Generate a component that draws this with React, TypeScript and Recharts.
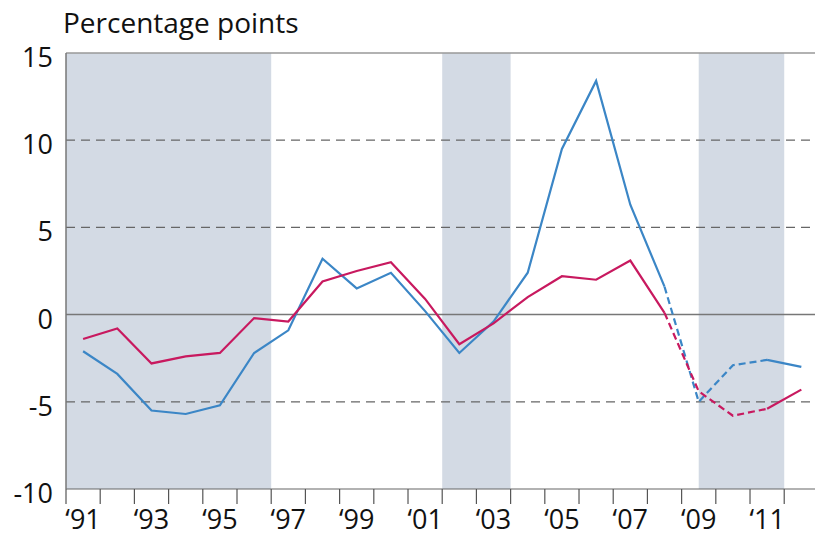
import React from 'react';
import { LineChart, Line, XAxis, YAxis, ReferenceArea, ReferenceLine } from 'recharts';

const years = [1991, 1992, 1993, 1994, 1995, 1996, 1997, 1998, 1999, 2000, 2001, 2002, 2003, 2004, 2005, 2006, 2007, 2008, 2009, 2010, 2011, 2012];
const blueSeries = [-2.1, -3.4, -5.5, -5.7, -5.2, -2.2, -0.9, 3.2, 1.5, 2.4, 0.2, -2.2, -0.4, 2.4, 9.5, 13.4, 6.3, 1.6, -5.0, -2.9, -2.6, -3.0];
const redSeries = [-1.4, -0.8, -2.8, -2.4, -2.2, -0.2, -0.4, 1.9, 2.5, 3.0, 0.9, -1.7, -0.5, 1.0, 2.2, 2.0, 3.1, 0.1, -4.4, -5.8, -5.4, -4.3];
// years drawn with a dashed line (estimates)
const dashedFrom = 2008;
const dashedTo = 2011;

const shadedPeriods = [[1990.5, 1996.5], [2001.5, 2003.5], [2009.0, 2011.5]];
const yTicks = [-10, -5, 0, 5, 10, 15];
const dashedGrid = [10, 5, -5];
const xLabelYears = [1991, 1993, 1995, 1997, 1999, 2001, 2003, 2005, 2007, 2009, 2011];
const yearBounds = years.map(y => y - 0.5);

const BLUE = '#3b86c6';
const RED = '#c8195f';
const SHADE = '#d3dae4';
const FONT = '"Open Sans", sans-serif';

const pick = (vals: number[], i: number, seg: string) => {
    const yr = years[i];
    if (seg === 'a') return yr <= dashedFrom ? vals[i] : null;
    if (seg === 'b') return yr >= dashedFrom && yr <= dashedTo ? vals[i] : null;
    return yr >= dashedTo ? vals[i] : null;
};

const data = years.map((yr, i) => ({
    year: yr,
    blueA: pick(blueSeries, i, 'a'), blueB: pick(blueSeries, i, 'b'), blueC: pick(blueSeries, i, 'c'),
    redA: pick(redSeries, i, 'a'), redB: pick(redSeries, i, 'b'), redC: pick(redSeries, i, 'c'),
}));

const XTick = ({ x, y, payload }: any) => {
    const v = payload.value;
    if (v % 1 !== 0) {
        return <line x1={x} x2={x} y1={y} y2={y + 15} stroke="#555" strokeWidth={1.2} />;
    }
    return (
        <text x={x} y={y + 40} textAnchor="middle" fontSize={27} fontFamily={FONT} fill="#111">
            {'\u2018' + String(v).slice(2)}
        </text>
    );
};

const YTick = ({ x, y, payload }: any) => (
    <text x={x - 13} y={y + 14} textAnchor="end" fontSize={27} fontFamily={FONT} fill="#111">
        {payload.value}
    </text>
);

export default function App() {
    return (
        <div style={{ position: 'absolute', left: 0, top: 0, width: 815, height: 536, background: '#fff' }}>
            <svg width={815} height={50} style={{ position: 'absolute', left: 0, top: 0 }}>
                <text x={63} y={33} fontSize={28} fontFamily={FONT} fill="#111">Percentage points</text>
            </svg>
            <LineChart width={815} height={536} data={data} margin={{ top: 53, right: 0, bottom: 0, left: 0 }}>
                {shadedPeriods.map(([a, b], i) => (
                    <ReferenceArea key={i} x1={a} x2={b} y1={-10} y2={15} fill={SHADE} fillOpacity={1} stroke="none" ifOverflow="hidden" />
                ))}
                {dashedGrid.map(v => (
                    <ReferenceLine key={v} y={v} stroke="#666" strokeWidth={1.2} strokeDasharray="9 6" />
                ))}
                <ReferenceLine y={0} stroke="#777" strokeWidth={1.5} />
                <ReferenceLine y={15} stroke="#999" strokeWidth={1.5} />
                <XAxis
                    dataKey="year" type="number" domain={[1990.5, 2012.4]} allowDataOverflow
                    ticks={[...yearBounds, ...xLabelYears]} interval={0}
                    tick={<XTick />} tickLine={false} tickSize={0} tickMargin={0}
                    axisLine={{ stroke: '#666', strokeWidth: 1.2 }} height={47}
                />
                <YAxis
                    domain={[-10, 15]} ticks={yTicks} interval={0} width={66}
                    tick={<YTick />} tickLine={false} tickSize={0} tickMargin={0}
                    axisLine={{ stroke: '#777', strokeWidth: 1.5 }}
                />
                <Line dataKey="blueA" stroke={BLUE} strokeWidth={2.2} dot={false} isAnimationActive={false} />
                <Line dataKey="blueB" stroke={BLUE} strokeWidth={2.2} strokeDasharray="7 4" dot={false} isAnimationActive={false} />
                <Line dataKey="blueC" stroke={BLUE} strokeWidth={2.2} dot={false} isAnimationActive={false} />
                <Line dataKey="redA" stroke={RED} strokeWidth={2.2} dot={false} isAnimationActive={false} />
                <Line dataKey="redB" stroke={RED} strokeWidth={2.2} strokeDasharray="7 4" dot={false} isAnimationActive={false} />
                <Line dataKey="redC" stroke={RED} strokeWidth={2.2} dot={false} isAnimationActive={false} />
            </LineChart>
        </div>
    );
}
